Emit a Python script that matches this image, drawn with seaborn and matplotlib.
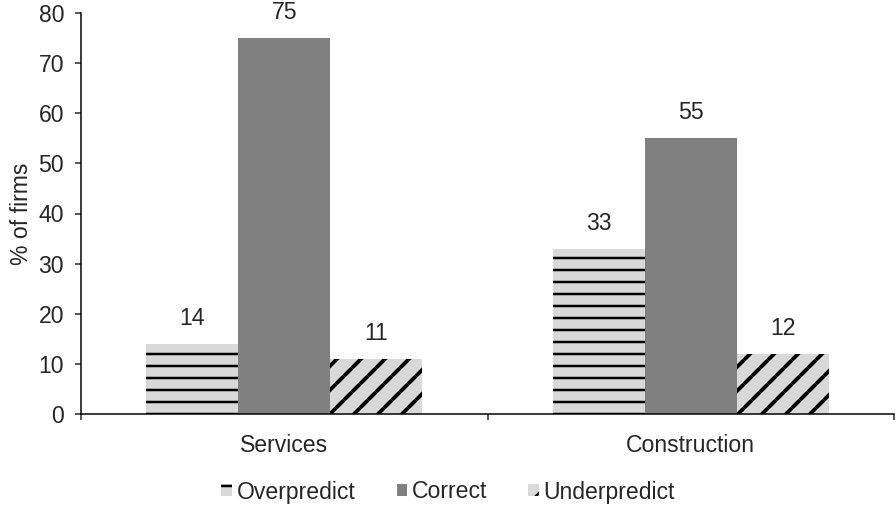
import matplotlib
matplotlib.use("Agg")
import matplotlib.pyplot as plt
import seaborn as sns
import pandas as pd

# Données
categories = ["Services", "Construction"]
series = ["Overpredict", "Correct", "Underpredict"]
overpredict = [14, 33]
correct = [75, 55]
underpredict = [11, 12]

df = pd.DataFrame({
    "secteur": categories * 3,
    "type": [s for s in series for _ in categories],
    "pct": overpredict + correct + underpredict,
})

sns.set_style("white")
plt.rcParams["font.family"] = ["Liberation Sans", "DejaVu Sans"]
plt.rcParams["hatch.linewidth"] = 2.5

FS = 23

fig = plt.figure(figsize=(896 / 72, 510 / 72), dpi=72)
ax = fig.add_axes([81 / 896, 96 / 510, (894 - 81) / 896, (414 - 13) / 510])

sns.barplot(data=df, x="secteur", y="pct", hue="type", order=categories,
            hue_order=series, width=0.68, gap=0, ax=ax, legend=False,
            palette=["#d9d9d9", "#808080", "#d9d9d9"])

# motifs : lignes horizontales, plein, diagonales
hatches = ["-", "", "/"]
hatch_lw = [2.5, 0, 3.8]
for cont, h, hl in zip(ax.containers, hatches, hatch_lw):
    for p in cont:
        p.set_hatch(h)
        p.set_edgecolor("black")
        p.set_linewidth(0)
        if hasattr(p, "set_hatch_linewidth") and hl:
            p.set_hatch_linewidth(hl)
    ax.bar_label(cont, fmt="%d", padding=14, fontsize=FS)

ax.set_ylim(0, 80)
ax.set_xlim(-0.5, 1.5)
ax.set_yticks(range(0, 81, 10))
ax.set_ylabel("% of firms", fontsize=FS, labelpad=5)
ax.set_xlabel("")
ax.tick_params(axis="y", labelsize=FS, left=True, length=6, width=1.5, direction="out", pad=11)
ax.tick_params(axis="x", labelsize=FS, length=0, pad=20)
ax.set_xticks([-0.5, 0.5, 1.5], minor=True)
ax.tick_params(axis="x", which="minor", bottom=True, length=6, width=1.5, direction="out")

sns.despine(ax=ax)
for s in ["left", "bottom"]:
    ax.spines[s].set_color("black")
    ax.spines[s].set_linewidth(1.5)

handles = [cont[0] for cont in ax.containers]
fig.legend(handles, series, loc="center", bbox_to_anchor=(0.5, 1 - 492 / 510),
           ncol=3, frameon=False, fontsize=FS, handlelength=0.45, handleheight=0.45,
           handletextpad=0.2, columnspacing=1.8)

fig.savefig("out.png", dpi=72)
